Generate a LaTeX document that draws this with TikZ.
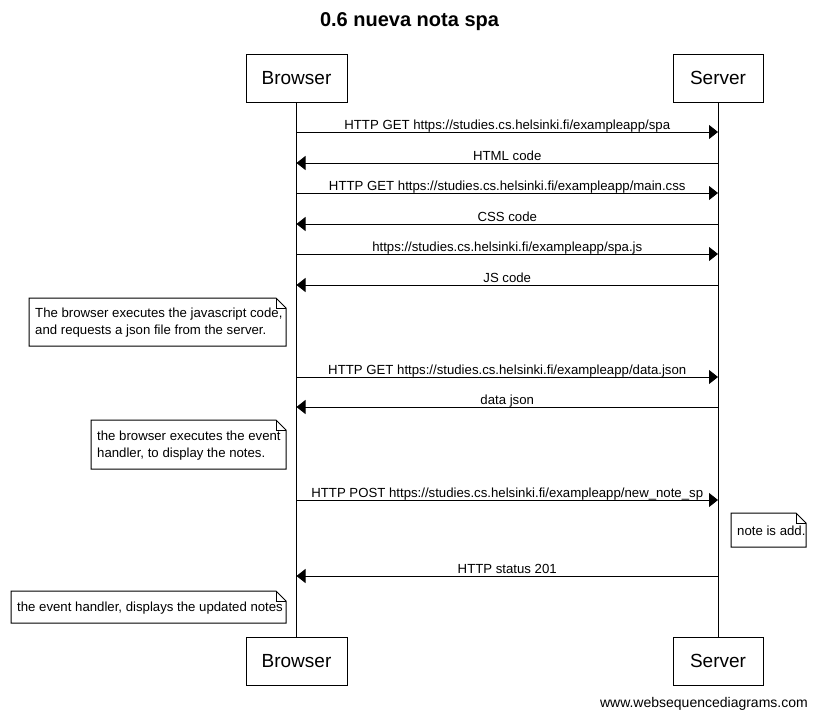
\documentclass[tikz,border=0pt]{standalone}
\usepackage{fontspec}
\setmainfont{Liberation Sans}
\usetikzlibrary{arrows.meta}
\begin{document}
\begin{tikzpicture}[x=1pt,y=-1pt,
  part/.style={draw, line width=1pt, fill=white, font=\fontsize{19}{22}\selectfont, inner sep=0pt, minimum height=48pt},
  life/.style={line width=1pt},
  msg/.style={line width=1pt, -{Triangle[length=9pt,width=14pt]}},
  lbl/.style={font=\fontsize{13.2}{15}\selectfont, inner sep=0pt, anchor=base},
  notetext/.style={font=\fontsize{13.2}{17}\selectfont, align=left, inner sep=0pt, anchor=west},
  notebox/.style={line width=1pt}
]
\useasboundingbox (0,0) rectangle (817,720);
% title
\node[font=\bfseries\fontsize{20}{24}\selectfont, inner sep=0pt] (title) at (409.5,22) {0.6 nueva nota spa};
% participants
\node[part, minimum width=101pt] (bt) at (296.5,78) {Browser};
\node[part, minimum width=90pt] (st) at (718,78) {Server};
\node[part, minimum width=101pt] (bb) at (296.5,661) {Browser};
\node[part, minimum width=90pt] (sb) at (718,661) {Server};
% lifelines
\draw[life] (bt.south) -- (bb.north);
\draw[life] (st.south) -- (sb.north);
% lifeline points
\foreach \i/\y in {1/132,2/163,3/193,4/224,5/254,6/285,7/377,8/407,9/500,10/576}{
  \coordinate (b\i) at (296.5,\y);
  \coordinate (s\i) at (718,\y);
}
% messages
\draw[msg] (b1) -- node[lbl, yshift=3pt]{HTTP GET https://studies.cs.helsinki.fi/exampleapp/spa} (s1);
\draw[msg] (s2) -- node[lbl, yshift=3pt]{HTML code} (b2);
\draw[msg] (b3) -- node[lbl, yshift=3pt]{HTTP GET https://studies.cs.helsinki.fi/exampleapp/main.css} (s3);
\draw[msg] (s4) -- node[lbl, yshift=3pt]{CSS code} (b4);
\draw[msg] (b5) -- node[lbl, yshift=3pt]{https://studies.cs.helsinki.fi/exampleapp/spa.js} (s5);
\draw[msg] (s6) -- node[lbl, yshift=3pt]{JS code} (b6);
\draw[msg] (b7) -- node[lbl, yshift=3pt]{HTTP GET https://studies.cs.helsinki.fi/exampleapp/data.json} (s7);
\draw[msg] (s8) -- node[lbl, yshift=3pt]{data json} (b8);
\draw[msg] (b9) -- node[lbl, yshift=3pt]{HTTP POST https://studies.cs.helsinki.fi/exampleapp/new\_note\_sp} (s9);
\draw[msg] (s10) -- node[lbl, yshift=3pt]{HTTP status 201} (b10);
% notes
\newcommand{\notebox}[6]{%
  \coordinate (#1nw) at (#2,#3);
  \coordinate (#1se) at (#4,#5);
  \draw[notebox] (#1nw) -- (#4-10,#3) -- (#4,#3+10) -- (#1se) -- (#2,#5) -- cycle;
  \draw[notebox] (#4-10,#3) -- (#4-10,#3+10) -- (#4,#3+10);
  \node[notetext] (#1) at (#2+6,{(#3+#5)/2+1}) {#6};
}
\notebox{n1}{29}{298}{286}{346}{The browser executes the javascript code,\\and requests a json file from the server.}
\notebox{n2}{91}{420}{286}{469}{the browser executes the event\\handler, to display the notes.}
\notebox{n3}{731}{513}{806}{547}{note is add.}
\notebox{n4}{11}{591}{286}{623}{the event handler, displays the updated notes}
% footer
\node[font=\fontsize{14}{16}\selectfont, inner sep=0pt, anchor=east] (foot) at (808,704) {www.websequencediagrams.com};
\end{tikzpicture}
\end{document}
